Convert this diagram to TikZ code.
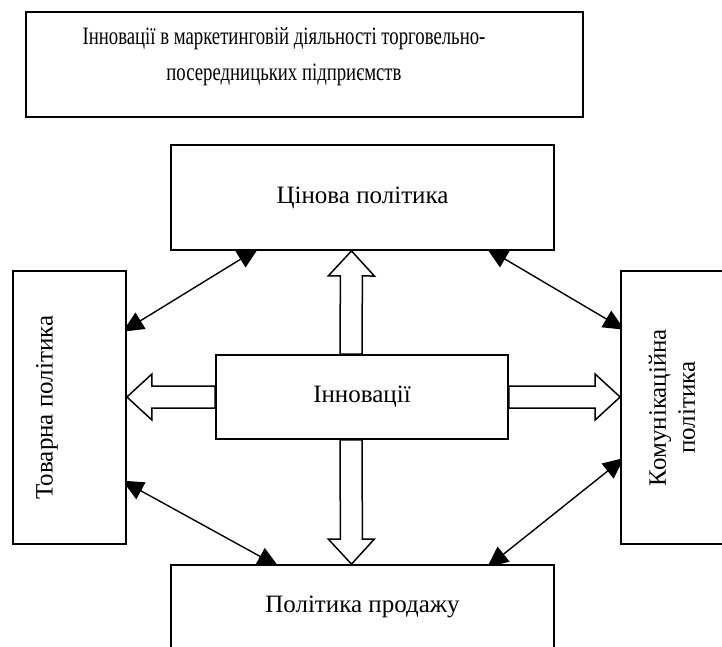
\documentclass[tikz,border=0pt]{standalone}
\usepackage{fontspec}
\setmainfont{Liberation Serif}
\newfontfamily\narrowserif[FakeStretch=0.75]{Liberation Serif}
\usetikzlibrary{arrows.meta, calc, backgrounds}

% hollow block arrow from #1 to #2
\newcommand{\fatarrow}[2]{%
  \draw[fatarr] let \p1=(#1), \p2=(#2),
      \n1={veclen(\x2-\x1,\y2-\y1)}, \n2={atan2(\y2-\y1,\x2-\x1)} in
    [shift={(\p1)}, rotate=\n2]
    (0pt,-11pt) -- (\n1-25pt,-11pt) -- (\n1-25pt,-23pt) -- (\n1,0pt)
    -- (\n1-25pt,23pt) -- (\n1-25pt,11pt) -- (0pt,11pt) -- cycle;}

\begin{document}
\begin{tikzpicture}[x=1pt, y=-1pt,
    box/.style={draw, line width=1.8pt, fill=white, inner sep=0pt,
                font=\fontsize{25}{29}\selectfont, align=center},
    txt/.style={font=\fontsize{25}{29}\selectfont, align=center, inner sep=0pt},
    fatarr/.style={draw, line width=1.5pt, fill=white},
    biarr/.style={{Triangle[length=21pt,width=19pt]}-{Triangle[length=21pt,width=19pt]},
                  line width=1.4pt, shorten <=-5pt, shorten >=-5pt}
  ]
  \useasboundingbox (0,0) rectangle (722,646);

  \node[box, minimum width=557pt, minimum height=105pt] (title) at (304.5,64.5) {};
  \node[txt, font=\narrowserif\fontsize{25}{36}\selectfont] (titletxt) at (284,57)
        {Інновації в маркетинговій діяльності торговельно-\\посередницьких підприємств};

  \node[box, minimum width=383pt, minimum height=105pt] (cin) at (362.5,197.5)
        {Цінова політика};
  \node[box, minimum width=113pt, minimum height=273pt] (tov) at (69.5,407.5) {};
  \node[txt, rotate=90] (tovtxt) at (47,407.5) {Товарна політика};
  \node[box, minimum width=103pt, minimum height=273pt] (kom) at (672.5,407.5) {};
  \node[txt, rotate=90] (komtxt) at (672,407.5) {Комунікаційна\\політика};
  \node[box, minimum width=292pt, minimum height=84pt] (inn) at (362,397)
        {Інновації};
  \node[box, minimum width=383pt, minimum height=83pt] (prod) at (362.5,606.5)
        {Політика продажу};

  \coordinate (p1) at ([xshift=84pt]cin.south west);
  \coordinate (p2) at ([yshift=-59pt]tov.north east);
  \coordinate (p3) at ([xshift=321pt]cin.south west);
  \coordinate (p4) at ([yshift=-57pt]kom.north west);
  \coordinate (p5) at ([yshift=-213pt]tov.north east);
  \coordinate (p6) at ([xshift=104pt]prod.north west);
  \coordinate (p7) at ([yshift=-191pt]kom.north west);
  \coordinate (p8) at ([xshift=321pt]prod.north west);

  \begin{scope}[on background layer]
    \foreach \a/\b in {p1/p2, p3/p4, p5/p6, p7/p8} {
      \draw[biarr] (\a) -- (\b);
    }
  \end{scope}

  \fatarrow{[xshift=-11pt]inn.north}{[xshift=-11pt]cin.south}
  \fatarrow{[xshift=-11pt]inn.south}{[xshift=-11pt]prod.north}
  \fatarrow{inn.west}{inn.west -| tov.east}
  \fatarrow{inn.east}{inn.east -| kom.west}
\end{tikzpicture}
\end{document}
